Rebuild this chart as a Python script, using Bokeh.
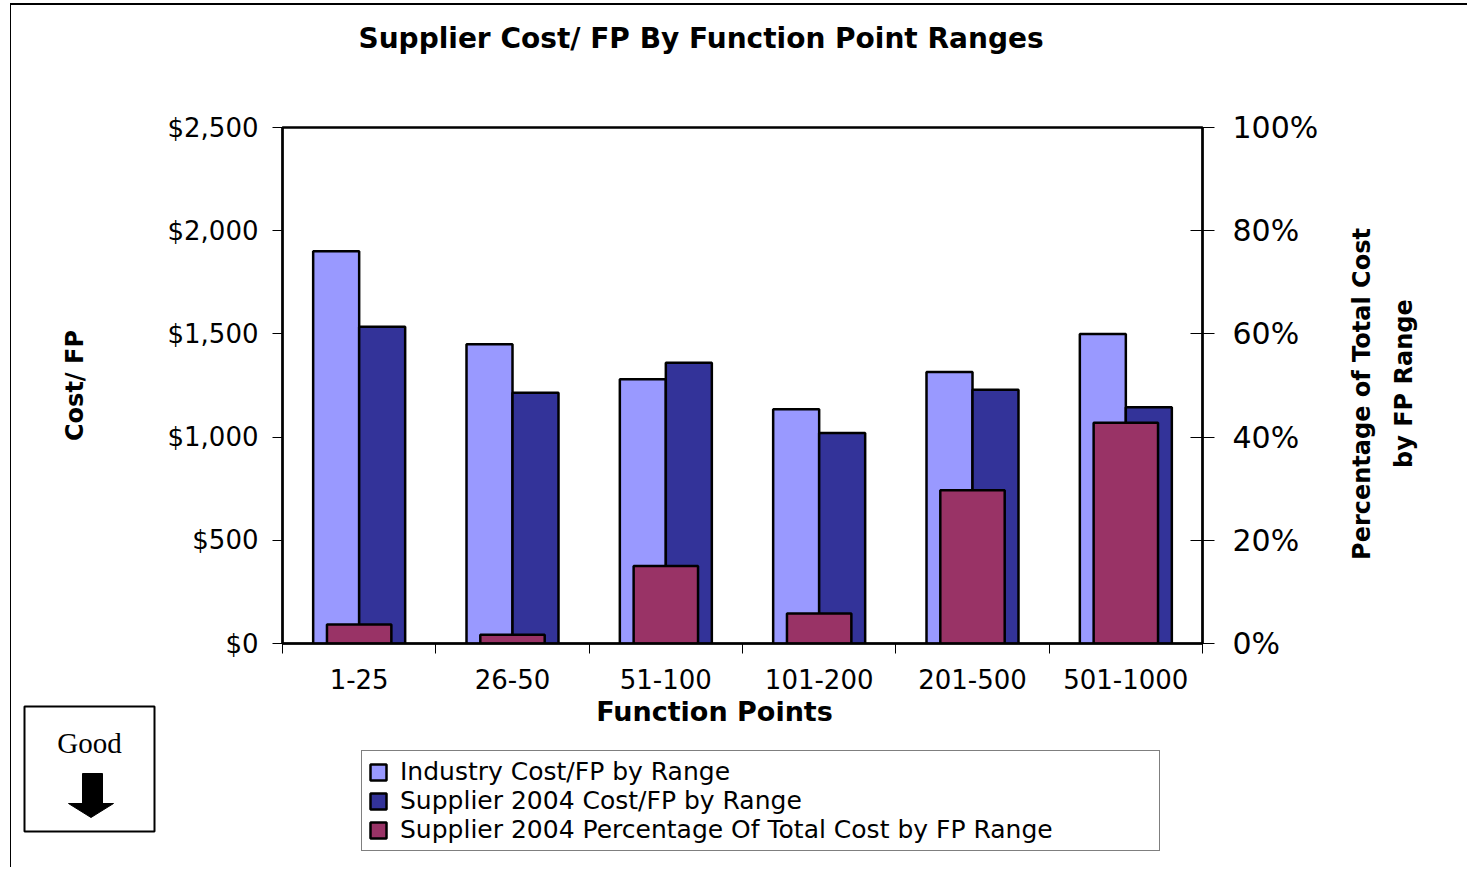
import math
from bokeh.plotting import figure
from bokeh.layouts import column
from bokeh.models import (ColumnDataSource, Range1d, LinearAxis, FixedTicker,
                          NumeralTickFormatter, PrintfTickFormatter, Legend,
                          LegendItem, Label, BoxAnnotation, PolyAnnotation)
from bokeh.transform import dodge
from bokeh.embed import file_html
from bokeh.resources import INLINE

# ---------------- data ----------------
categories = ["1-25", "26-50", "51-100", "101-200", "201-500", "501-1000"]
industry_cost = [1900, 1450, 1280, 1135, 1315, 1500]
supplier_cost = [1535, 1215, 1360, 1020, 1230, 1145]
supplier_pct = [3.7, 1.7, 15.0, 5.8, 29.7, 42.8]
cost_ticks = [0, 500, 1000, 1500, 2000, 2500]
pct_ticks = [0, 20, 40, 60, 80, 100]

title_text = "Supplier Cost/ FP By Function Point Ranges"
x_title = "Function Points"
y_title = "Cost/ FP"
y2_title_lines = ["Percentage of Total Cost", "by FP Range"]
series_names = ["Industry Cost/FP by Range",
                "Supplier 2004 Cost/FP by Range",
                "Supplier 2004 Percentage Of Total Cost by FP Range"]
series_colors = ["#9999FF", "#333399", "#993366"]

n = len(categories)
centers = [i + 0.5 for i in range(n)]
src = ColumnDataSource(dict(x=centers, cat=categories, industry=industry_cost,
                            supplier=supplier_cost, pct=supplier_pct))

FONT = "DejaVu Sans"
W = 1456
H_HEAD, H_MAIN, H_FOOT = 90, 602, 170
NB = "\u00a0"


def blank_fig(h):
    f = figure(width=W, height=h, output_backend="svg", toolbar_location=None,
               x_range=Range1d(0, W), y_range=Range1d(0, h),
               x_axis_location=None, y_axis_location=None,
               min_border=0, min_border_left=0, min_border_right=0,
               min_border_top=0, min_border_bottom=0)
    f.frame_align = False
    f.title.visible = False
    f.outline_line_color = None
    f.grid.grid_line_color = None
    f.background_fill_color = "white"
    f.border_fill_color = "white"
    return f


# ---------------- header (title) ----------------
head = blank_fig(H_HEAD)
head.add_layout(Label(x=347, y=57, x_units="screen", y_units="screen", text=title_text,
                      text_font=FONT, text_font_style="bold", text_font_size="28px",
                      text_align="left", text_baseline="middle", text_color="black"))

# ---------------- main chart ----------------
p = figure(width=W, height=H_MAIN, output_backend="svg", toolbar_location=None,
           x_range=Range1d(0, n), y_range=Range1d(cost_ticks[0], cost_ticks[-1]),
           min_border_left=271, min_border_right=265,
           min_border_top=32, min_border_bottom=54)
p.frame_align = False
p.title.visible = False
p.background_fill_color = "white"
p.border_fill_color = "white"
p.outline_line_color = "black"
p.outline_line_width = 2.5
p.xgrid.grid_line_color = None
p.ygrid.grid_line_color = None
p.extra_y_ranges = {"pct": Range1d(pct_ticks[0], pct_ticks[-1])}

bar_line = dict(line_color="black", line_width=2.5)
r1 = p.vbar(x=dodge("x", -0.15), width=0.3, top="industry", bottom=0, source=src,
            fill_color=series_colors[0], **bar_line)
r2 = p.vbar(x=dodge("x", 0.15), width=0.3, top="supplier", bottom=0, source=src,
            fill_color=series_colors[1], **bar_line)
r3 = p.vbar(x="x", width=0.42, top="pct", bottom=0, source=src, y_range_name="pct",
            fill_color=series_colors[2], **bar_line)

xa = p.xaxis[0]
xa.ticker = FixedTicker(ticks=centers, minor_ticks=list(range(n + 1)))
xa.major_label_overrides = {c: lab for c, lab in zip(centers, categories)}
xa.major_tick_out = 0
xa.major_tick_in = 0
xa.minor_tick_out = 10
xa.minor_tick_in = 0
xa.minor_tick_line_color = "black"
xa.axis_line_color = "black"
xa.axis_line_width = 2
xa.major_label_text_font = FONT
xa.major_label_text_font_size = "26px"
xa.major_label_text_color = "black"
xa.major_label_standoff = 15

ya = p.yaxis[0]
ya.ticker = FixedTicker(ticks=cost_ticks)
ya.formatter = NumeralTickFormatter(format="$0,0")
ya.major_tick_out = 10
ya.major_tick_in = 0
ya.major_tick_line_color = "black"
ya.minor_tick_line_color = None
ya.axis_line_width = 2
ya.major_label_text_font = FONT
ya.major_label_text_font_size = "26px"
ya.major_label_text_color = "black"
ya.major_label_standoff = 14
ya.axis_label = y_title
ya.axis_label_text_font = FONT
ya.axis_label_text_font_style = "bold"
ya.axis_label_text_font_size = "24px"
ya.axis_label_text_color = "black"
ya.axis_label_standoff = 76

ra = LinearAxis(y_range_name="pct", ticker=FixedTicker(ticks=pct_ticks),
                formatter=PrintfTickFormatter(format="%d%%"))
ra.major_tick_out = 12
ra.major_tick_in = 12
ra.major_tick_line_color = "black"
ra.minor_tick_line_color = None
ra.axis_line_width = 2
ra.major_label_text_font = FONT
ra.major_label_text_font_size = "30px"
ra.major_label_text_color = "black"
ra.major_label_standoff = 18
# rotated (bottom-to-top) two-line label; lines start from the axis start and are
# centred with leading no-break spaces
ra.axis_label = NB * 10 + y2_title_lines[0] + "\n" + NB * 21 + y2_title_lines[1]
ra.axis_label_text_font = FONT
ra.axis_label_text_font_style = "bold"
ra.axis_label_text_font_size = "24px"
ra.axis_label_text_color = "black"
ra.axis_label_text_line_height = 1.5
ra.axis_label_standoff = 62
try:
    ra.axis_label_orientation = math.pi / 2
except Exception:
    pass
try:
    ra.axis_label_align = "start"
except Exception:
    pass
p.add_layout(ra, "right")

# ---------------- footer: x title, "Good" box, legend ----------------
foot = blank_fig(H_FOOT)
foot.add_layout(Label(x=703, y=156, x_units="screen", y_units="screen", text=x_title,
                      text_font=FONT, text_font_style="bold", text_font_size="27px",
                      text_align="center", text_baseline="middle", text_color="black"))

scr = dict(left_units="screen", right_units="screen", top_units="screen",
           bottom_units="screen")
foot.add_layout(BoxAnnotation(left=13, right=143, top=161, bottom=36,
                              fill_color="white", fill_alpha=1,
                              line_color="black", line_width=2, line_alpha=1, **scr))
foot.add_layout(Label(x=78, y=125, x_units="screen", y_units="screen", text="Good",
                      text_font="Liberation Serif", text_font_size="29px",
                      text_align="center", text_baseline="middle", text_color="black"))
foot.add_layout(BoxAnnotation(left=71, right=91, top=94, bottom=62,
                              fill_color="black", fill_alpha=1,
                              line_color="black", line_width=1, line_alpha=1, **scr))
foot.add_layout(PolyAnnotation(xs=[57, 102, 79.5], ys=[64, 64, 50],
                               xs_units="screen", ys_units="screen",
                               fill_color="black", fill_alpha=1,
                               line_color="black", line_width=1, line_alpha=1))

nan = float("nan")
key_src = ColumnDataSource(dict(x=[nan], top=[nan]))
keys = [foot.vbar(x="x", top="top", width=1, source=key_src, fill_color=c, **bar_line)
        for c in series_colors]
legend = Legend(items=[LegendItem(label=nm, renderers=[rk])
                       for nm, rk in zip(series_names, keys)],
                location=(350, 16), orientation="vertical",
                border_line_color="black", border_line_width=1,
                background_fill_color="white", background_fill_alpha=1,
                label_text_font=FONT, label_text_font_size="25px",
                label_text_color="black",
                glyph_width=20, glyph_height=20, label_standoff=12,
                label_width=753, spacing=0, padding=6, margin=0)
foot.add_layout(legend)

page = column(head, p, foot, spacing=0,
              styles={"margin-left": "10px", "margin-top": "3px",
                      "border-left": "1px solid black", "border-top": "2px solid black"})

open("out.html", "w").write(file_html(page, INLINE))
